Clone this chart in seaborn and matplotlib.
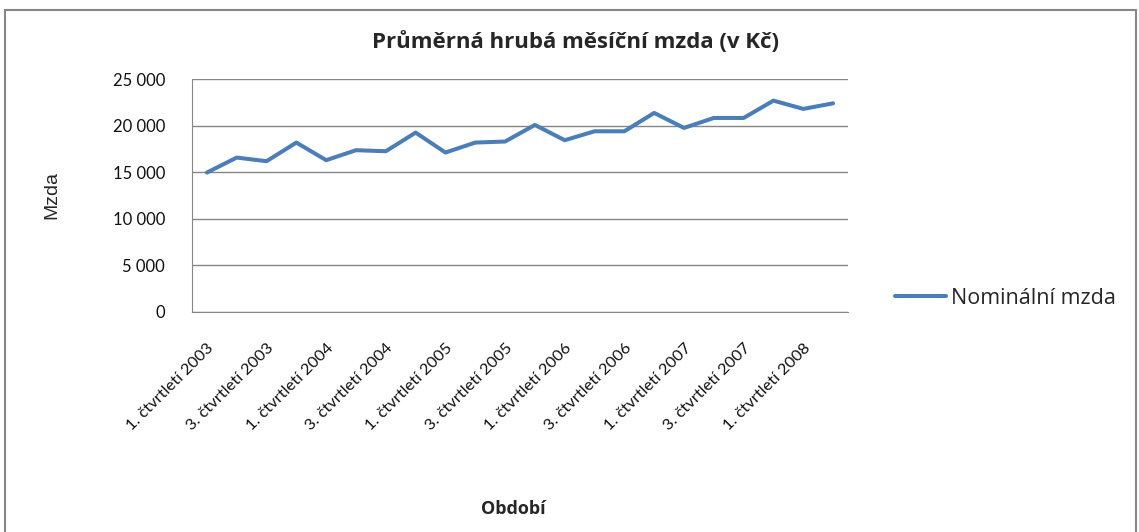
import matplotlib
matplotlib.use("Agg")
import matplotlib.pyplot as plt
from matplotlib.patches import Rectangle
from matplotlib.transforms import ScaledTranslation
import seaborn as sns
import pandas as pd

# quarterly data 2003 Q1 - 2008 Q2
quarters = [f"{q}. čtvrtletí {y}" for y in range(2003, 2009) for q in (1, 2, 3, 4)][:22]
wages = [14960, 16570, 16180, 18180, 16290, 17360, 17250, 19250, 17110, 18180, 18290,
         20070, 18430, 19390, 19390, 21360, 19750, 20820, 20820, 22680, 21790, 22390]
yticks = [0, 5000, 10000, 15000, 20000, 25000]
ytick_labels = ["0", "5 000", "10 000", "15 000", "20 000", "25 000"]
series_name = "Nominální mzda"

df = pd.DataFrame({"pos": range(len(wages)), "quarter": quarters, "Mzda": wages,
                   "series": series_name})

sns.set_style("white")
plt.rcParams["font.family"] = ["Lato", "DejaVu Sans"]
grey = "#868686"

fig = plt.figure(figsize=(11.39, 5.32), dpi=100)
ax = fig.add_axes([192 / 1139, 1 - 312 / 532, 656 / 1139, 233 / 532])

sns.lineplot(data=df, x="pos", y="Mzda", hue="series", palette=["#4A7EBB"],
             linewidth=2.9, ax=ax, legend=True)

ax.set_xlim(-0.5, len(wages) - 0.5)
ax.set_ylim(0, 25000)
ax.set_yticks(yticks)
ax.set_yticklabels(ytick_labels, fontsize=12, color="#111111")
ax.yaxis.grid(True, color=grey, linewidth=1)
ax.set_axisbelow(True)

# category boundary ticks, labels every second quarter
ax.set_xticks([i - 0.5 for i in range(len(wages) + 1)], minor=True)
ax.set_xticks(range(0, len(wages), 2))
ax.set_xticklabels(quarters[::2], rotation=45, ha="right", rotation_mode="anchor",
                   fontsize=11.8, color="#111111")
shift = ScaledTranslation(-4 / 100, 0, fig.dpi_scale_trans)
for lab in ax.get_xticklabels():
    lab.set_transform(lab.get_transform() + shift)
ax.tick_params(axis="x", which="major", length=0, pad=21)
ax.tick_params(axis="x", which="minor", length=4.3, color=grey, direction="out")
ax.tick_params(axis="y", length=6.5, color=grey, direction="out", pad=13)

for side in ("top", "right"):
    ax.spines[side].set_visible(False)
for side in ("left", "bottom"):
    ax.spines[side].set_color(grey)

ax.set_xlabel("Období", fontsize=13, fontweight="bold", family="Open Sans", labelpad=0)
ax.xaxis.set_label_coords((513 - 192) / 656, -(500 - 312) / 233)
ax.set_ylabel("Mzda", fontsize=14, family="Liberation Sans", labelpad=0)
ax.yaxis.set_label_coords(-(192 - 60) / 656, (312 - 195) / 233)

fig.text(575 / 1139, 1 - 42 / 532, "Průměrná hrubá měsíční mzda (v Kč)", ha="center",
         va="center", fontsize=16, fontweight="bold", family="Open Sans")

handles, labels = ax.get_legend_handles_labels()
ax.legend_.remove()
fig.legend(handles, labels, loc="center left", bbox_to_anchor=(884 / 1139, 1 - 298 / 532),
           frameon=False, prop={"family": "Open Sans", "size": 15.5},
           handlelength=2.4, handletextpad=0.2, borderpad=0)

fig.patches.append(Rectangle((5 / 1139, -0.05), 1131 / 1139, 1 - 10 / 532 + 0.05,
                             transform=fig.transFigure, fill=False,
                             edgecolor=grey, linewidth=1.5))

fig.savefig("out.png", dpi=100)
